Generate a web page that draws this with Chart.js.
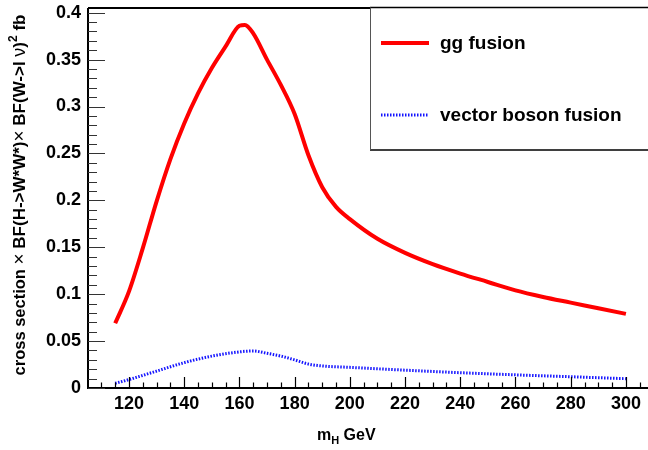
<!DOCTYPE html>
<html>
<head>
<meta charset="utf-8">
<script src="https://cdn.jsdelivr.net/npm/chart.js@4.4.1/dist/chart.umd.min.js"></script>
<style>
  html, body { margin: 0; padding: 0; background: #fff; }
  #wrap { width: 648px; height: 450px; position: relative; }
</style>
</head>
<body>
<div id="wrap"><canvas id="c" width="648" height="450"></canvas></div>
<script>
// ---- data ----
const massGG   = [115, 120, 125, 130, 135, 140, 145, 150, 155, 160, 162, 165, 170, 175, 180, 185, 190, 195, 200, 210, 220, 230, 240, 250, 260, 270, 280, 290, 300];
const ggFusion = [0.069, 0.103, 0.149, 0.199, 0.244, 0.282, 0.314, 0.341, 0.364, 0.386, 0.387, 0.378, 0.350, 0.323, 0.292, 0.248, 0.214, 0.193, 0.180, 0.159, 0.144, 0.132, 0.122, 0.113, 0.104, 0.097, 0.091, 0.085, 0.079];
const massVBF   = [115, 120, 130, 140, 150, 160, 165, 170, 175, 180, 185, 190, 200, 220, 240, 260, 280, 300];
const vbfFusion = [0.005, 0.009, 0.018, 0.027, 0.034, 0.0385, 0.0395, 0.037, 0.034, 0.030, 0.0255, 0.0235, 0.022, 0.019, 0.0163, 0.014, 0.012, 0.0099];
const xTicks = [120, 140, 160, 180, 200, 220, 240, 260, 280, 300];
const yTicks = [0, 0.05, 0.1, 0.15, 0.2, 0.25, 0.3, 0.35, 0.4];
const yTickLabels = ['0', '0.05', '0.1', '0.15', '0.2', '0.25', '0.3', '0.35', '0.4'];
const seriesNames = ['gg fusion', 'vector boson fusion'];

const FONT = 'Liberation Sans, Arial, Helvetica, sans-serif';

const rootStyle = {
  id: 'rootStyle',
  afterDraw(chart) {
    const ctx = chart.ctx;
    const ca = chart.chartArea;
    const xs = chart.scales.x, ys = chart.scales.y;
    ctx.save();
    // frame lines
    ctx.strokeStyle = '#000';
    ctx.lineWidth = 2;
    ctx.beginPath();
    ctx.moveTo(ca.left, ca.top); ctx.lineTo(ca.right, ca.top);
    ctx.moveTo(ca.left, ca.top); ctx.lineTo(ca.left, ca.bottom);
    ctx.moveTo(ca.left - 1, ca.bottom); ctx.lineTo(ca.right, ca.bottom);
    ctx.stroke();
    // y ticks (inward)
    ctx.strokeStyle = '#333';
    ctx.lineWidth = 1.2;
    ctx.beginPath();
    for (let i = 0; i <= 40; i++) {
      const py = Math.round(ys.getPixelForValue(i / 100)) + 0.5;
      const len = (i % 5 === 0) ? 17 : 9;
      ctx.moveTo(ca.left, py); ctx.lineTo(ca.left + len, py);
    }
    ctx.stroke();
    // x ticks (inward)
    ctx.strokeStyle = '#000';
    ctx.beginPath();
    for (let m = 105; m <= 310; m += 5) {
      const px = Math.round(xs.getPixelForValue(m)) + 0.5;
      if (px < ca.left + 2 || px > ca.right) continue;
      const len = (m % 20 === 0) ? 11 : 5.5;
      ctx.moveTo(px, ca.bottom); ctx.lineTo(px, ca.bottom - len);
    }
    ctx.stroke();

    // legend box
    const lx = 370, ly = 7.5, lw = 300, lh = 142.5;
    ctx.fillStyle = '#fff';
    ctx.fillRect(lx, ly, lw, lh);
    ctx.strokeStyle = '#000';
    ctx.lineWidth = 1.5;
    ctx.beginPath();
    ctx.moveTo(lx, ly); ctx.lineTo(lx + lw, ly);
    ctx.moveTo(lx, ly + lh); ctx.lineTo(lx + lw, ly + lh);
    ctx.stroke();
    ctx.strokeStyle = '#555';
    ctx.lineWidth = 1;
    ctx.beginPath();
    ctx.moveTo(lx + 0.5, ly); ctx.lineTo(lx + 0.5, ly + lh);
    ctx.stroke();

    const ds = chart.data.datasets;
    const rows = [43, 115];
    const baselines = [49, 121];
    ds.forEach((d, i) => {
      ctx.strokeStyle = d.borderColor;
      ctx.lineWidth = d.borderWidth;
      ctx.setLineDash(d.borderDash || []);
      ctx.beginPath();
      ctx.moveTo(381, rows[i]); ctx.lineTo(429, rows[i]);
      ctx.stroke();
      ctx.setLineDash([]);
      ctx.fillStyle = '#000';
      ctx.font = 'bold 19px ' + FONT;
      ctx.textAlign = 'left';
      ctx.textBaseline = 'alphabetic';
      ctx.fillText(d.label, 440, baselines[i]);
    });

    // x axis title: m_H GeV
    ctx.fillStyle = '#000';
    ctx.textBaseline = 'alphabetic';
    ctx.textAlign = 'left';
    let x = 317;
    ctx.font = 'bold 16px ' + FONT;
    ctx.fillText('m', x, 440); x += ctx.measureText('m').width;
    ctx.font = 'bold 11px ' + FONT;
    ctx.fillText('H', x, 444); x += ctx.measureText('H').width;
    ctx.font = 'bold 16px ' + FONT;
    ctx.fillText(' GeV', x, 440);

    // y axis title (rotated), mixed fonts
    const segs = [
      ['cross section ', 'bold 16.5px ' + FONT, 0],
      ['\u00d7', '19px ' + FONT, 0],
      [' BF(H->W*W*)', 'bold 17px ' + FONT, 0],
      ['\u00d7', '19px ' + FONT, 0],
      [' BF(W->l ', 'bold 17px ' + FONT, 0],
      ['\u03bd', '18px ' + FONT, 0],
      [')', 'bold 17px ' + FONT, 0],
      ['2', 'bold 12px ' + FONT, -8],
      [' fb', 'bold 17px ' + FONT, 0]
    ];
    let total = 0;
    segs.forEach(s => { ctx.font = s[1]; total += ctx.measureText(s[0]).width; });
    ctx.translate(25, 195);
    ctx.rotate(-Math.PI / 2);
    let tx = -total / 2;
    segs.forEach(s => {
      ctx.font = s[1];
      ctx.fillText(s[0], tx, s[2]);
      tx += ctx.measureText(s[0]).width;
    });
    ctx.restore();
  }
};

new Chart(document.getElementById('c'), {
  type: 'line',
  data: {
    datasets: [
      {
        label: seriesNames[0],
        data: massGG.map((m, i) => ({ x: m, y: ggFusion[i] })),
        borderColor: '#ff0000',
        borderWidth: 4,
        pointRadius: 0,
        fill: false,
        cubicInterpolationMode: 'monotone'
      },
      {
        label: seriesNames[1],
        data: massVBF.map((m, i) => ({ x: m, y: vbfFusion[i] })),
        borderColor: '#1414ff',
        borderWidth: 3,
        borderDash: [1.5, 1.5],
        pointRadius: 0,
        fill: false,
        cubicInterpolationMode: 'monotone'
      }
    ]
  },
  options: {
    responsive: false,
    animation: false,
    devicePixelRatio: 1,
    layout: { padding: { top: 8, right: 0, left: 0, bottom: 0 } },
    plugins: { legend: { display: false }, tooltip: { enabled: false }, title: { display: false } },
    scales: {
      x: {
        type: 'linear',
        min: 105.15,
        max: 308,
        grid: { display: false, drawTicks: false },
        border: { display: false },
        afterBuildTicks: (s) => { s.ticks = xTicks.map(v => ({ value: v })); },
        afterFit: (s) => { s.height = 62; },
        ticks: {
          padding: 5,
          color: '#000',
          maxRotation: 0,
          autoSkip: false,
          font: { family: FONT, weight: 'bold', size: 18, lineHeight: 1.2 },
          callback: (v) => String(v)
        }
      },
      y: {
        type: 'linear',
        min: 0,
        max: 0.405,
        grid: { display: false, drawTicks: false },
        border: { display: false },
        afterBuildTicks: (s) => { s.ticks = yTicks.map(v => ({ value: v })); },
        afterFit: (s) => { s.width = 88; s.paddingTop = 0; s.paddingBottom = 0; },
        ticks: {
          padding: 7,
          color: '#000',
          autoSkip: false,
          font: { family: FONT, weight: 'bold', size: 18, lineHeight: 0.05 },
          callback: (v) => { const i = yTicks.indexOf(v); return i >= 0 ? yTickLabels[i] : ''; }
        }
      }
    }
  },
  plugins: [rootStyle]
});
</script>
</body>
</html>
